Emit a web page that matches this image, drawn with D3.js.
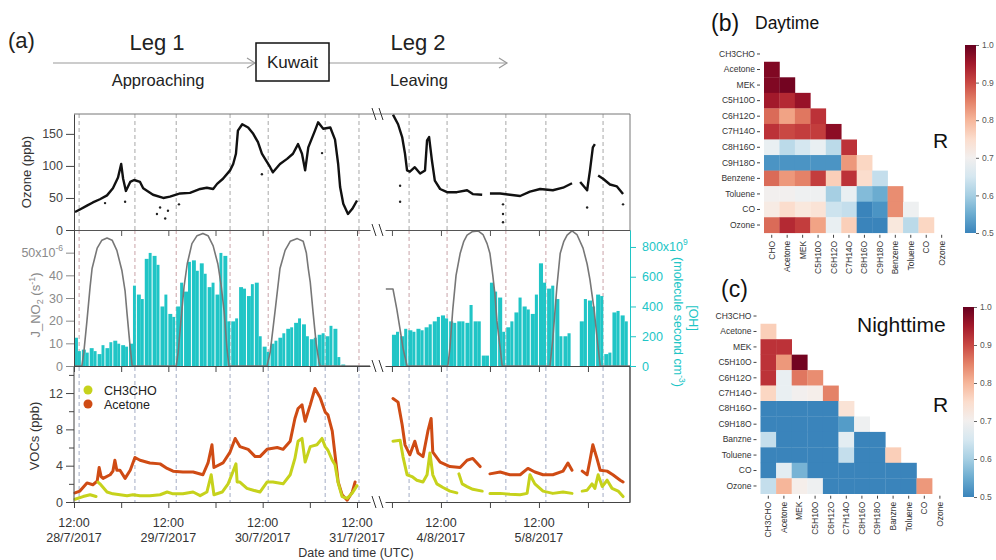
<!DOCTYPE html>
<html>
<head>
<meta charset="utf-8">
<script src="https://cdn.jsdelivr.net/npm/d3@7"></script>
<style>
  body { margin: 0; background: #fff; }
  svg text { font-family: "Liberation Sans", Arial, sans-serif; }
</style>
</head>
<body>
<svg id="fig" width="996" height="560"></svg>
<script>
// ---- data: leg 1 hours from 12:00 28/7/2017, leg 2 hours from 00:00 4/8/2017 ----
var ozone1 = [[0.25,28],[1.5,32],[3.3,38],[4.8,43],[6.6,48],[8.4,54],[9.9,65],[11.2,82],[12.0,103],[12.5,80],[13.2,61],[14.3,75],[15.3,78],[16.8,75],[17.6,65],[20.1,55],[22.7,50],[24.4,52],[27.0,57],[29.5,58],[32.1,64],[33.8,66],[35.4,64],[36.4,72],[37.9,80],[39.7,93],[40.5,103],[41.2,119],[41.7,155],[42.8,165],[44.3,160],[45.6,150],[46.8,137],[47.8,119],[48.6,111],[49.9,98],[50.6,90],[52.4,103],[54.2,111],[55.7,119],[57.0,134],[58.0,119],[58.8,93],[59.6,129],[61.3,155],[62.1,168],[63.4,158],[65.2,160],[66.4,141],[67.2,103],[67.7,67],[68.5,41],[69.7,25],[70.8,33],[72.0,46]];
var ozone2 = [[0.25,180],[1.5,165],[2.5,145],[3.2,119],[3.7,93],[4.4,91],[5.6,98],[6.9,88],[8.1,93],[8.6,140],[9.1,145],[9.8,108],[10.5,77],[11.8,64],[13.5,59],[15.9,59],[18.4,62],[19.8,56],[22.1,55],null,[24.0,57],[26.5,57],[28.9,55],[31.4,53],[33.8,60],[36.3,64],[39.4,62],[41.9,66],[44.1,73],null,[46.1,75],[47.8,62],[48.5,93],[49.2,129],[49.7,134],null,[50.5,85],[51.7,80],[53.4,71],[55.1,68],[56.6,56]];
var ozoneDots1 = [[7.9,42],[13.0,44],[21.1,25],[21.9,35],[23.2,18],[23.9,30],[26.7,40],[47.8,87],[63.1,120]];
var ozoneDots2 = [[2.0,69],[2.0,44],[27.2,40],[27.2,25],[27.2,12],[47.8,35],[56.6,40]];

var jno2_1 = [[0,0],[2.0,0],[2.5,6],[3.3,20],[4.1,35],[4.6,43],[5.9,52],[7.1,55.5],[8.4,56.5],[9.7,55.5],[10.9,51],[12.2,42],[13.0,33],[13.5,23],[14.3,8],[14.8,0],[26.0,0],[26.5,6],[27.2,20],[28.0,35],[28.8,45],[30.0,54],[31.3,57.5],[32.8,58.5],[34.1,57.5],[35.4,53],[36.6,45],[37.4,36],[38.2,24],[38.9,8],[39.4,0],[49.1,0],[49.9,6],[51.2,25],[52.4,43],[53.7,51],[55.0,55],[56.8,56.2],[58.3,55],[59.1,50],[59.6,43],[60.1,37],[60.8,24],[61.6,10],[62.3,2],[62.6,0],[75.3,0]];
var jno2_2 = [[-1.5,34],[0.25,34],[1.2,25],[2.0,16],[2.7,8],[3.7,0],[13.7,0],[14.2,8],[14.9,25],[15.7,40],[16.7,49.6],[17.6,55],[18.4,57.7],[19.6,59.2],[21.1,59.6],[22.3,58],[23.3,54],[24.0,49.6],[24.7,40],[25.2,32],[25.7,20],[26.5,8],[27.0,0],[38.7,0],[39.4,12],[40.4,35],[41.2,49.6],[42.1,55],[42.9,57.7],[44.1,59.6],[45.3,58],[46.8,52],[47.8,45],[48.5,38],[49.5,25],[50.2,13],[51.0,0],[58.3,0]];

// hourly [OH] (x10^9)
var oh1 = [190,100,110,90,120,100,80,140,120,160,170,150,140,130,150,540,480,450,720,760,740,680,400,480,350,330,400,560,500,700,710,640,690,620,530,560,480,760,740,300,300,320,530,520,470,550,560,200,130,95,150,170,190,220,250,260,290,320,280,200,180,190,210,220,200,270,250,60,10];
var oh2 = [210,230,200,250,240,230,250,240,260,280,300,330,340,320,300,290,300,300,290,410,300,300,70,70,560,500,460,230,260,300,360,460,400,380,350,480,690,560,520,540,450,200,200,220,0,0,300,450,440,400,480,470,80,90,360,370,340,300];

var acetone1 = [[0.25,1.0],[1.5,1.2],[3.3,2.1],[4.8,1.9],[5.9,2.3],[6.4,3.8],[6.9,2.8],[7.4,2.6],[9.2,3.0],[9.9,3.4],[10.4,4.6],[10.9,3.5],[11.7,3.5],[13.0,2.6],[14.3,3.5],[15.5,4.9],[16.8,4.6],[19.3,4.3],[21.9,4.2],[23.7,3.7],[25.2,3.4],[27.7,3.3],[30.3,3.3],[32.8,3.0],[34.1,4.3],[35.1,6.3],[35.6,3.8],[37.9,4.3],[39.7,5.5],[41.0,7.0],[42.2,6.1],[44.3,5.8],[46.1,5.0],[47.3,5.0],[49.1,5.8],[51.7,6.0],[53.2,5.8],[55.0,6.7],[56.2,9.2],[57.0,10.3],[58.0,10.7],[58.8,8.9],[60.1,10.7],[61.3,12.5],[62.6,11.5],[63.9,9.9],[64.6,9.6],[65.7,7.8],[66.4,5.2],[67.2,2.2],[68.2,0.8],[69.5,0.2],[70.8,1.1],[71.5,2.2]];
var ch3cho1 = [[0.25,0.3],[2.3,0.6],[4.1,0.8],[5.6,0.6],null,[6.1,2.2],[6.6,2.0],[8.4,1.1],[9.9,0.9],[11.7,0.8],[13.5,0.7],[15.0,0.8],[16.8,0.7],[19.3,0.7],[21.9,0.8],[23.7,1.1],[25.2,0.9],[27.7,0.9],[30.3,1.1],[32.1,0.7],[33.8,1.1],[34.9,3.0],[35.6,0.8],[37.7,1.1],[39.2,2.0],[40.5,3.4],[41.2,4.2],[41.5,2.2],[42.2,2.2],[44.0,1.5],[45.6,1.3],[47.3,1.1],[49.1,2.2],[50.6,2.2],[53.2,2.0],[55.0,3.0],[56.2,4.8],[57.0,6.7],[58.0,7.0],[58.8,4.4],[60.1,6.1],[61.8,6.3],[63.1,7.0],[63.9,6.1],[64.6,5.7],[65.7,4.6],[66.4,4.1],[67.2,2.1],[68.2,0.6],[69.5,0.4],[70.8,1.0],[72.0,1.8]];
var acetone2 = [[0.25,11.4],[1.5,11.0],[2.5,8.5],[3.2,6.3],[4.4,5.2],[5.6,6.7],[6.4,5.4],[7.6,5.0],[8.8,7.8],[9.6,9.2],[10.0,5.5],[11.8,4.4],[14.2,3.9],[16.7,3.8],[18.4,4.6],[19.8,4.8],[21.6,3.9],null,[24.0,3.1],[26.5,3.3],[28.9,3.0],[31.4,3.0],[33.3,3.7],[35.0,3.3],[37.0,3.0],[39.4,3.0],[41.9,3.4],[43.1,4.3],[44.1,3.5],null,[46.6,3.4],[47.8,3.0],[48.5,4.6],[49.2,6.3],[50.2,4.8],[51.0,3.5],[52.7,3.4],[54.1,3.0],[55.9,2.4],[56.6,2.2]];
var ch3cho2 = [[0.25,6.7],[2.0,6.8],[2.7,5.0],[3.7,3.0],[4.9,2.8],[6.1,2.4],[7.6,2.2],[8.6,3.0],[9.3,5.4],[10.0,3.0],[11.0,2.0],[12.5,1.6],[14.2,1.2],[15.9,1.0],null,[16.4,3.1],[17.2,2.0],[18.4,1.7],[19.8,1.4],[22.1,1.2],null,[24.0,0.95],[26.5,0.95],[28.9,0.85],[31.4,0.8],[33.1,0.95],[33.8,3.0],[35.0,2.0],[37.0,1.2],[39.4,0.95],[41.9,1.1],[44.1,0.95],null,[46.6,1.2],[47.8,1.3],[49.0,2.0],[49.7,1.5],[50.5,3.0],[51.5,1.7],[52.7,2.4],[53.9,1.5],[55.4,1.2],[56.6,0.6]];

var dash1 = [1.3, 15.5, 26.0, 39.7, 49.4, 63.9, 72.5];
var dash2 = [4.2, 13.5, 27.9, 37.7, 51.7];

var noonTicks1 = [0, 24, 48, 72], noonLabels1 = ["28/7/2017", "29/7/2017", "30/7/2017", "31/7/2017"];
var noonTicks2 = [12, 36], noonLabels2 = ["4/8/2017", "5/8/2017"];
var allTicks1 = [0, 12, 24, 36, 48, 60, 72];
var allTicks2 = [0, 12, 24, 36, 48];

var ozoneTicks = [0, 50, 100, 150];
var jTicks = [0, 10, 20, 30, 40, 50];
var ohTicks = [0, 200, 400, 600, 800];
var vocTicks = [0, 4, 8, 12], vocMinor = [2, 6, 10, 14];

// correlation matrices (lower triangle, row by row)
var dayVars = ["CH3CHO", "Acetone", "MEK", "C5H10O", "C6H12O", "C7H14O", "C8H16O", "C9H18O", "Benzene", "Toluene", "CO", "Ozone"];
var dayCols = ["CHO", "Acetone", "MEK", "C5H10O", "C6H12O", "C7H14O", "C8H16O", "C9H18O", "Benzene", "Toluene", "CO", "Ozone"];
var nightVars = ["CH3CHO", "Acetone", "MEK", "C5H10O", "C6H12O", "C7H14O", "C8H16O", "C9H18O", "Banzne", "Toluene", "CO", "Ozone"];
var dayR = [
  [],
  [0.98],
  [0.98, 0.99],
  [0.95, 0.93, 0.96],
  [0.87, 0.82, 0.86, 0.92],
  [0.92, 0.90, 0.91, 0.91, 0.97],
  [0.68, 0.62, 0.65, 0.68, 0.62, 0.92],
  [0.52, 0.52, 0.52, 0.52, 0.52, 0.83, 0.76],
  [0.87, 0.83, 0.85, 0.91, 0.77, 0.92, 0.75, 0.63],
  [0.70, 0.70, 0.69, 0.69, 0.60, 0.68, 0.57, 0.55, 0.84],
  [0.72, 0.75, 0.73, 0.74, 0.64, 0.63, 0.50, 0.52, 0.84, 0.69],
  [0.87, 0.93, 0.91, 0.82, 0.68, 0.77, 0.50, 0.50, 0.73, 0.62, 0.76]
];
var nightR = [
  [],
  [0.77],
  [0.92, 0.92],
  [0.92, 0.83, 0.99],
  [0.92, 0.68, 0.86, 0.84],
  [0.76, 0.68, 0.70, 0.71, 0.85],
  [0.50, 0.50, 0.50, 0.50, 0.50, 0.74],
  [0.50, 0.50, 0.50, 0.50, 0.50, 0.53, 0.69],
  [0.63, 0.50, 0.50, 0.50, 0.50, 0.67, 0.50, 0.50],
  [0.50, 0.50, 0.50, 0.50, 0.50, 0.63, 0.50, 0.50, 0.77],
  [0.50, 0.67, 0.56, 0.50, 0.50, 0.50, 0.50, 0.50, 0.50, 0.50],
  [0.63, 0.80, 0.71, 0.69, 0.50, 0.50, 0.50, 0.50, 0.50, 0.50, 0.83]
];
var cbTicks = [0.5, 0.6, 0.7, 0.8, 0.9, 1.0];

// ---- scales ----
var svg = d3.select("#fig");
var x1 = d3.scaleLinear().domain([0, 75.3]).range([74, 370]);
var x2 = d3.scaleLinear().domain([-1.7, 58.3]).range([385, 630]);
var yO3 = d3.scaleLinear().domain([0, 181]).range([230, 114]);
var yJ = d3.scaleLinear().domain([0, 60]).range([366, 230]);
var yOH = d3.scaleLinear().domain([0, 914]).range([366, 230]);
var yVOC = d3.scaleLinear().domain([0, 14.87]).range([502, 367]);

var CYAN = "#20c5c6", GREY = "#8a8a8a", ACE = "#cf4b14", ALD = "#c6d21c";

var segs = [
  { x: x1, ozone: ozone1, dots: ozoneDots1, j: jno2_1, oh: oh1, ace: acetone1, ald: ch3cho1, dash: dash1, ticks: allTicks1 },
  { x: x2, ozone: ozone2, dots: ozoneDots2, j: jno2_2, oh: oh2, ace: acetone2, ald: ch3cho2, dash: dash2, ticks: allTicks2 }
];

// ---- header ----
var hdr = svg.append("g");
hdr.append("text").attr("x", 8).attr("y", 48).attr("font-size", 22).attr("fill", "#222").text("(a)");
hdr.append("text").attr("x", 157).attr("y", 50).attr("font-size", 22).attr("text-anchor", "middle").attr("fill", "#222").text("Leg 1");
hdr.append("text").attr("x", 158).attr("y", 86).attr("font-size", 16.5).attr("text-anchor", "middle").attr("fill", "#222").text("Approaching");
hdr.append("text").attr("x", 418).attr("y", 50).attr("font-size", 22).attr("text-anchor", "middle").attr("fill", "#222").text("Leg 2");
hdr.append("text").attr("x", 419).attr("y", 86).attr("font-size", 16.5).attr("text-anchor", "middle").attr("fill", "#222").text("Leaving");
hdr.append("line").attr("x1", 53).attr("x2", 255).attr("y1", 63).attr("y2", 63).attr("stroke", "#999").attr("stroke-width", 1.2);
hdr.append("path").attr("d", "M247,58L255,63L247,68").attr("fill", "none").attr("stroke", "#999").attr("stroke-width", 1.2);
hdr.append("line").attr("x1", 329).attr("x2", 507).attr("y1", 63).attr("y2", 63).attr("stroke", "#999").attr("stroke-width", 1.2);
hdr.append("path").attr("d", "M499,58L507,63L499,68").attr("fill", "none").attr("stroke", "#999").attr("stroke-width", 1.2);
hdr.append("rect").attr("x", 256).attr("y", 43).attr("width", 73).attr("height", 38).attr("fill", "#fff").attr("stroke", "#111").attr("stroke-width", 1.5);
hdr.append("text").attr("x", 292.5).attr("y", 68).attr("font-size", 17).attr("text-anchor", "middle").attr("fill", "#222").text("Kuwait");

// ---- dashed day/night markers ----
var panels = [[114, 230, "#a8a8a8"], [230, 366, "#c9a3a8"], [367, 502, "#a3acc4"]];
segs.forEach(function (s) {
  panels.forEach(function (p) {
    svg.append("g").selectAll("line").data(s.dash).enter().append("line")
      .attr("x1", function (d) { return s.x(d); }).attr("x2", function (d) { return s.x(d); })
      .attr("y1", p[0]).attr("y2", p[1])
      .attr("stroke", p[2]).attr("stroke-width", 1).attr("stroke-dasharray", "4,3");
  });
});

// ---- ozone panel ----
segs.forEach(function (s) {
  var line = d3.line().defined(function (d) { return d; })
    .x(function (d) { return s.x(d[0]); }).y(function (d) { return yO3(d[1]); });
  svg.append("path").datum(s.ozone).attr("d", line).attr("fill", "none")
    .attr("stroke", "#111").attr("stroke-width", 2.4).attr("stroke-linejoin", "round");
  svg.append("g").selectAll("circle").data(s.dots).enter().append("circle")
    .attr("cx", function (d) { return s.x(d[0]); }).attr("cy", function (d) { return yO3(d[1]); })
    .attr("r", 1.2).attr("fill", "#222");
});

// ---- J / OH panel ----
segs.forEach(function (s) {
  svg.append("g").selectAll("rect").data(s.oh).enter().append("rect")
    .attr("x", function (d, i) { return s.x(i); })
    .attr("width", function (d, i) { return s.x(i + 1) - s.x(i) - (i % 2 ? 1 : 0); })
    .attr("y", function (d) { return yOH(d); })
    .attr("height", function (d) { return yOH(0) - yOH(d); })
    .attr("fill", CYAN);
  var line = d3.line().x(function (d) { return s.x(d[0]); }).y(function (d) { return yJ(d[1]); });
  svg.append("path").datum(s.j).attr("d", line).attr("fill", "none")
    .attr("stroke", "#777").attr("stroke-width", 1.6).attr("stroke-linejoin", "round");
});

// ---- VOC panel ----
segs.forEach(function (s) {
  var line = d3.line().defined(function (d) { return d; })
    .x(function (d) { return s.x(d[0]); }).y(function (d) { return yVOC(d[1]); });
  svg.append("path").datum(s.ace).attr("d", line).attr("fill", "none")
    .attr("stroke", ACE).attr("stroke-width", 3).attr("stroke-linejoin", "round").attr("stroke-linecap", "round");
  svg.append("path").datum(s.ald).attr("d", line).attr("fill", "none")
    .attr("stroke", ALD).attr("stroke-width", 3).attr("stroke-linejoin", "round").attr("stroke-linecap", "round");
});
svg.append("circle").attr("cx", 88).attr("cy", 390).attr("r", 4.5).attr("fill", ALD);
svg.append("circle").attr("cx", 88).attr("cy", 404).attr("r", 4.5).attr("fill", ACE);
svg.append("text").attr("x", 104).attr("y", 394.5).attr("font-size", 12.5).attr("fill", "#222").text("CH3CHO");
svg.append("text").attr("x", 104).attr("y", 408.5).attr("font-size", 12.5).attr("fill", "#222").text("Acetone");

// ---- frames and axes ----
function styleAxis(g, color) {
  g.selectAll("path.domain").attr("stroke", color);
  g.selectAll(".tick line").attr("stroke", color);
  g.selectAll(".tick text").attr("fill", color).attr("font-size", 12.5)
    .style("font-family", "'Liberation Sans', Arial, sans-serif");
}
svg.append("line").attr("x1", 74).attr("x2", 630).attr("y1", 114).attr("y2", 114).attr("stroke", "#777");
svg.append("line").attr("x1", 630).attr("x2", 630).attr("y1", 114).attr("y2", 230).attr("stroke", "#777");
svg.append("line").attr("x1", 630).attr("x2", 630).attr("y1", 367).attr("y2", 502).attr("stroke", "#333").attr("stroke-width", 1.3);

[[230, "#555"], [366, "#444"], [502, "#444"]].forEach(function (b) {
  segs.forEach(function (s) {
    var g = svg.append("g").attr("transform", "translate(0," + b[0] + ")")
      .call(d3.axisBottom(s.x).tickValues(s.ticks).tickSize(6).tickSizeOuter(0).tickFormat(""));
    styleAxis(g, b[1]);
  });
});

// axis break marks
[114, 230, 366, 502].forEach(function (y) {
  [374, 381].forEach(function (x) {
    svg.append("line").attr("x1", x - 2).attr("y1", y - 6).attr("x2", x + 2).attr("y2", y + 6)
      .attr("stroke", "#333").attr("stroke-width", 1);
  });
});

var gO3 = svg.append("g").attr("transform", "translate(74,0)")
  .call(d3.axisLeft(yO3).tickValues(ozoneTicks).tickSize(8).tickSizeOuter(0));
styleAxis(gO3, "#444");

var gJ = svg.append("g").attr("transform", "translate(74,0)")
  .call(d3.axisLeft(yJ).tickValues(jTicks).tickSize(8).tickSizeOuter(0)
    .tickFormat(function (d) { return d === 50 ? "" : d; }));
styleAxis(gJ, GREY);
gJ.select("path.domain").attr("stroke", "#444");
var t50 = svg.append("text").attr("x", 63).attr("y", yJ(50) + 4.5).attr("text-anchor", "end")
  .attr("font-size", 12.5).attr("fill", GREY);
t50.append("tspan").text("50x10");
t50.append("tspan").attr("dy", -6).attr("font-size", 8.5).text("-6");

var gOH = svg.append("g").attr("transform", "translate(630,0)")
  .call(d3.axisRight(yOH).tickValues(ohTicks).tickSize(6).tickSizeOuter(0)
    .tickFormat(function (d) { return d === 800 ? "" : d; }));
styleAxis(gOH, CYAN);
gOH.selectAll(".tick text").attr("x", 12);
var t800 = svg.append("text").attr("x", 642).attr("y", yOH(800) + 4.5)
  .attr("font-size", 12.5).attr("fill", CYAN);
t800.append("tspan").text("800x10");
t800.append("tspan").attr("dy", -6).attr("font-size", 8.5).text("9");

var gV = svg.append("g").attr("transform", "translate(74,0)")
  .call(d3.axisLeft(yVOC).tickValues(vocTicks).tickSize(8).tickSizeOuter(0));
styleAxis(gV, "#444");
gV.select("path.domain").attr("d", "M0," + yVOC(14.87) + "V" + yVOC(0));
svg.append("g").attr("transform", "translate(74,0)")
  .call(d3.axisLeft(yVOC).tickValues(vocMinor).tickSize(5).tickFormat(""))
  .call(function (g) { g.select("path.domain").remove(); g.selectAll("line").attr("stroke", "#444"); });

// x tick labels
[[x1, noonTicks1, noonLabels1], [x2, noonTicks2, noonLabels2]].forEach(function (a) {
  a[1].forEach(function (h, i) {
    var t = svg.append("text").attr("x", a[0](h)).attr("y", 527).attr("text-anchor", "middle")
      .attr("font-size", 12.5).attr("fill", "#333");
    t.append("tspan").attr("x", a[0](h)).text("12:00");
    t.append("tspan").attr("x", a[0](h)).attr("dy", 15).text(a[2][i]);
  });
});
svg.append("text").attr("x", 356).attr("y", 557).attr("text-anchor", "middle")
  .attr("font-size", 12.5).attr("fill", "#333").text("Date and time (UTC)");

// y labels
svg.append("text").attr("transform", "translate(31,172) rotate(-90)").attr("text-anchor", "middle")
  .attr("font-size", 13).attr("fill", "#333").text("Ozone (ppb)");
var jl = svg.append("text").attr("transform", "translate(40,305) rotate(-90)").attr("text-anchor", "middle")
  .attr("font-size", 13).attr("fill", GREY);
jl.append("tspan").text("J_NO");
jl.append("tspan").attr("dy", 3).attr("font-size", 9).text("2");
jl.append("tspan").attr("dy", -3).text(" (s");
jl.append("tspan").attr("dy", -5).attr("font-size", 9).text("-1");
jl.append("tspan").attr("dy", 5).text(")");
svg.append("text").attr("transform", "translate(39,436) rotate(-90)").attr("text-anchor", "middle")
  .attr("font-size", 13).attr("fill", "#333").text("VOCs (ppb)");
svg.append("text").attr("transform", "translate(689,318) rotate(90)").attr("text-anchor", "middle")
  .attr("font-size", 12.5).attr("fill", CYAN).text("[OH]");
var ol = svg.append("text").attr("transform", "translate(674,322) rotate(90)").attr("text-anchor", "middle")
  .attr("font-size", 12.5).attr("fill", CYAN);
ol.append("tspan").text("(molecule second cm");
ol.append("tspan").attr("dy", -5).attr("font-size", 8.5).text("-3");
ol.append("tspan").attr("dy", 5).text(")");

// ---- heatmaps ----
var heatColor = d3.scaleDiverging(d3.interpolateRdBu).domain([1.0, 0.7, 0.4]);

var grad = svg.append("defs").append("linearGradient").attr("id", "cb")
  .attr("x1", 0).attr("x2", 0).attr("y1", 0).attr("y2", 1);
d3.range(0, 11).forEach(function (i) {
  var v = 1.0 - i * 0.05;
  grad.append("stop").attr("offset", (i / 10)).attr("stop-color", heatColor(v));
});

function drawHeat(c) {
  var g = svg.append("g");
  var yb = d3.scaleBand().domain(c.rows).range([c.y0, c.y0 + 12 * c.ch]);
  var xb = d3.scaleBand().domain(c.cols).range([c.x0, c.x0 + 12 * c.cw]);
  c.data.forEach(function (row, i) {
    g.selectAll(null).data(row).enter().append("rect")
      .attr("x", function (d, j) { return xb(c.cols[j]); })
      .attr("y", yb(c.rows[i]))
      .attr("width", xb.bandwidth() + 0.3).attr("height", yb.bandwidth() + 0.3)
      .attr("fill", function (d) { return heatColor(d); });
  });
  var ga = g.append("g").attr("transform", "translate(" + (c.x0 - 4) + ",0)")
    .call(d3.axisLeft(yb).tickSize(3).tickPadding(2));
  ga.select("path.domain").remove();
  ga.selectAll("line").attr("stroke", "#444");
  ga.selectAll("text").attr("font-size", 8.5).attr("fill", "#333")
    .style("font-family", "'Liberation Sans', Arial, sans-serif");
  var gb = g.append("g").attr("transform", "translate(0," + (c.y0 + 12 * c.ch + 2) + ")")
    .call(d3.axisBottom(xb).tickSize(3));
  gb.select("path.domain").remove();
  gb.selectAll("line").attr("stroke", "#444");
  gb.selectAll("text").attr("font-size", 8.5).attr("fill", "#333")
    .style("font-family", "'Liberation Sans', Arial, sans-serif")
    .attr("transform", "rotate(-90)").attr("text-anchor", "end")
    .attr("x", -6).attr("y", 0).attr("dy", "0.35em");

  g.append("rect").attr("x", c.cbx).attr("y", c.cbTop).attr("width", 11)
    .attr("height", c.cbBottom - c.cbTop).attr("fill", "url(#cb)");
  var cs = d3.scaleLinear().domain([0.5, 1.0]).range([c.cbBottom, c.cbTop]);
  var gc = g.append("g").attr("transform", "translate(" + (c.cbx + 11) + ",0)")
    .call(d3.axisRight(cs).tickValues(cbTicks).tickSize(3).tickPadding(3).tickFormat(d3.format(".1f")));
  gc.select("path.domain").remove();
  gc.selectAll("line").attr("stroke", "#666");
  gc.selectAll("text").attr("font-size", 8.5).attr("fill", "#555")
    .style("font-family", "'Liberation Sans', Arial, sans-serif");

  g.append("text").attr("x", c.labX).attr("y", c.labY).attr("font-size", 23).attr("fill", "#111").text(c.label);
  g.append("text").attr("x", c.titX).attr("y", c.titY).attr("font-size", c.titSize).attr("fill", "#111").text(c.title);
  g.append("text").attr("x", 933).attr("y", c.rY).attr("font-size", 21).attr("fill", "#111").text("R");
}

drawHeat({ rows: dayVars, cols: dayCols, data: dayR, x0: 764, y0: 46.2, cw: 15.45, ch: 15.55,
  cbx: 965, cbTop: 45, cbBottom: 233, label: "(b)", labX: 711, labY: 31,
  title: "Daytime", titX: 755, titY: 29, titSize: 17.5, rY: 148 });
drawHeat({ rows: nightVars, cols: nightVars, data: nightR, x0: 760.5, y0: 308.3, cw: 15.6, ch: 15.45,
  cbx: 963, cbTop: 307, cbBottom: 497, label: "(c)", labX: 721, labY: 297,
  title: "Nighttime", titX: 857, titY: 332, titSize: 21, rY: 412 });
</script>
</body>
</html>
